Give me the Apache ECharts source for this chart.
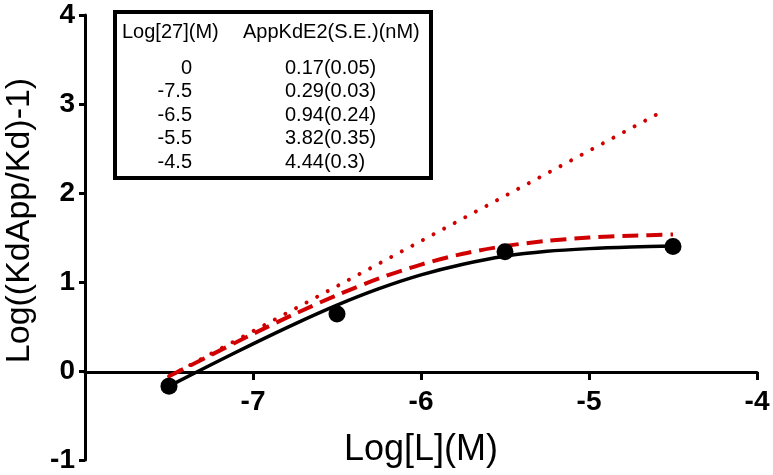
<!DOCTYPE html>
<html>
<head>
<meta charset="utf-8">
<script src="https://cdn.jsdelivr.net/npm/echarts@6/dist/echarts.min.js"></script>
<style>
html,body{margin:0;padding:0;background:#fff;}
#chart{width:773px;height:475px;}
</style>
</head>
<body>
<div id="chart"></div>
<script>
// Measured data points
var pointX = [-7.5, -6.5, -5.5, -4.5];
var pointY = [-0.17, 0.64, 1.34, 1.40];

// Black fitted curve
var fitX = [-7.5, -7.25, -7.0, -6.75, -6.5, -6.25, -6.0, -5.75, -5.5, -5.25, -5.0, -4.75, -4.5];
var fitY = [-0.17, 0.07, 0.305, 0.53, 0.74, 0.925, 1.08, 1.20, 1.29, 1.345, 1.375, 1.393, 1.404];

// Red dashed curve
var dashY = [-0.06, 0.18, 0.417, 0.643, 0.852, 1.04, 1.196, 1.318, 1.404, 1.462, 1.499, 1.52, 1.533];

// Red dotted straight line
var dotX = [-7.5, -4.56];
var dotY = [-0.06, 2.92];

// Axis ranges
var xMin = -8, xMax = -4;
var yMin = -1, yMax = 4;

// Table
var tableHeader = ['Log[27](M)', 'AppKdE2(S.E.)(nM)'];
var tableLog = ['0', '-7.5', '-6.5', '-5.5', '-4.5'];
var tableKd = ['0.17(0.05)', '0.29(0.03)', '0.94(0.24)', '3.82(0.35)', '4.44(0.3)'];

function zip(a, b) { return a.map(function (v, i) { return [v, b[i]]; }); }

var FONT = '"Liberation Sans", Arial, sans-serif';
var RED = '#d10000';

var tableGraphics = [
  { type: 'rect', shape: { x: 115, y: 12, width: 316, height: 166 },
    style: { fill: '#fff', stroke: '#000', lineWidth: 4 }, z: 10 },
  { type: 'text', x: 122, y: 32, style: { text: tableHeader[0], font: '20px ' + FONT, fill: '#000', textAlign: 'left', textVerticalAlign: 'middle' }, z: 11 },
  { type: 'text', x: 243, y: 32, style: { text: tableHeader[1], font: '20px ' + FONT, fill: '#000', textAlign: 'left', textVerticalAlign: 'middle' }, z: 11 }
];
var rowY = [68, 91.5, 115, 138.5, 162];
tableLog.forEach(function (t, i) {
  tableGraphics.push({ type: 'text', x: 192, y: rowY[i], style: { text: t, font: '20px ' + FONT, fill: '#000', textAlign: 'right', textVerticalAlign: 'middle' }, z: 11 });
  tableGraphics.push({ type: 'text', x: 285, y: rowY[i], style: { text: tableKd[i], font: '20px ' + FONT, fill: '#000', textAlign: 'left', textVerticalAlign: 'middle' }, z: 11 });
});

var chart = echarts.init(document.getElementById('chart'), null, { renderer: 'canvas' });
chart.setOption({
  animation: false,
  backgroundColor: '#fff',
  grid: [
    { left: 85, right: 16, top: 15, bottom: 15, containLabel: false, outerBoundsMode: 'none' },
    // second grid whose bottom edge sits at y = 0 of the first, carrying the visible x axis
    { left: 85, right: 16, top: 15, bottom: 103, containLabel: false, outerBoundsMode: 'none' }
  ],
  xAxis: [
    { gridIndex: 0, type: 'value', min: xMin, max: xMax, show: false },
    {
      gridIndex: 1, type: 'value', min: xMin, max: xMax, interval: 1, position: 'bottom',
      name: 'Log[L](M)', nameLocation: 'middle', nameGap: 60,
      nameTextStyle: { fontFamily: FONT, fontSize: 36, color: '#000' },
      axisLine: { onZero: false, lineStyle: { color: '#000', width: 3 } },
      axisTick: { show: true, inside: false, length: 8, lineStyle: { color: '#000', width: 3 } },
      axisLabel: { margin: 16, fontFamily: FONT, fontSize: 28, fontWeight: 'bold', color: '#000',
        formatter: function (v) { return v === xMin ? '' : String(v); } },
      splitLine: { show: false }
    }
  ],
  yAxis: [
    {
      gridIndex: 0, type: 'value', min: yMin, max: yMax, interval: 1,
      name: 'Log((KdApp/Kd)-1)', nameLocation: 'middle', nameGap: 48, nameRotate: 90,
      nameTextStyle: { fontFamily: FONT, fontSize: 34, color: '#000', padding: [0, 0, 0, 34] },
      axisLine: { show: true, onZero: false, lineStyle: { color: '#000', width: 3 } },
      axisTick: { show: true, inside: false, length: 6, lineStyle: { color: '#000', width: 3 } },
      axisLabel: { margin: 10, fontFamily: FONT, fontSize: 28, fontWeight: 'bold', color: '#000' },
      splitLine: { show: false }
    },
    { gridIndex: 1, type: 'value', min: 0, max: yMax, show: false }
  ],
  graphic: tableGraphics,
  series: [
    { type: 'line', xAxisIndex: 0, yAxisIndex: 0, data: zip(dotX, dotY), showSymbol: false, symbol: 'none',
      lineStyle: { color: RED, width: 4, type: [0.01, 12], cap: 'round' }, z: 2 },
    { type: 'line', xAxisIndex: 0, yAxisIndex: 0, data: zip(fitX, dashY), showSymbol: false, symbol: 'none', smooth: 0.3,
      lineStyle: { color: RED, width: 4, type: [16, 8] }, z: 3 },
    { type: 'line', xAxisIndex: 0, yAxisIndex: 0, data: zip(fitX, fitY), showSymbol: false, symbol: 'none', smooth: 0.3,
      lineStyle: { color: '#000', width: 3.5 }, z: 4 },
    { type: 'scatter', xAxisIndex: 0, yAxisIndex: 0, data: zip(pointX, pointY), symbol: 'circle', symbolSize: 17,
      itemStyle: { color: '#000', opacity: 1 }, z: 5 }
  ]
});
</script>
</body>
</html>
